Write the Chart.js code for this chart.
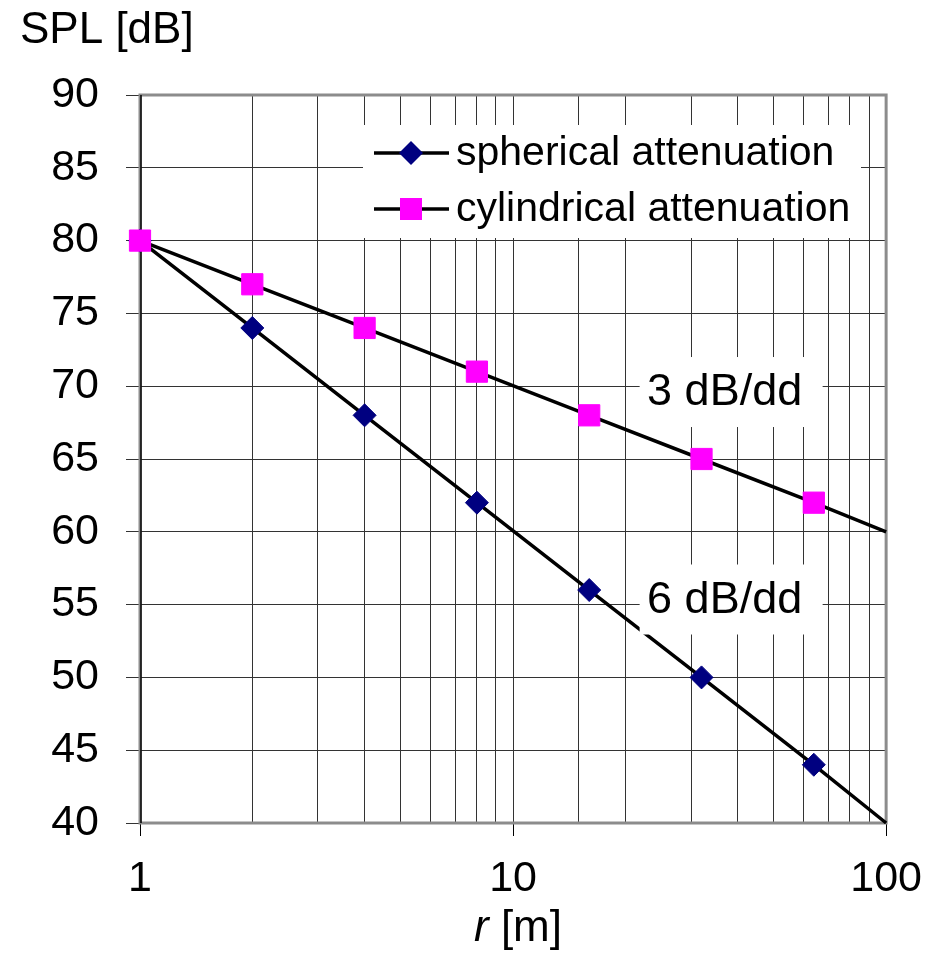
<!DOCTYPE html>
<html>
<head>
<meta charset="utf-8">
<script src="https://cdn.jsdelivr.net/npm/chart.js@4.4.1/dist/chart.umd.min.js"></script>
<style>
  html, body { margin: 0; padding: 0; background: #fff; }
  #wrap { width: 939px; height: 956px; }
</style>
</head>
<body>
<div id="wrap"><canvas id="spl"></canvas></div>
<script>
// distance from the source [m]
const distances = [1, 2, 4, 8, 16, 32, 64, 100];
// point source: -6 dB per doubling of distance
const spherical = [80, 74, 68, 62, 56, 50, 44, 40];
// line source: -3 dB per doubling of distance
const cylindrical = [80, 77, 74, 71, 68, 65, 62, 60];
const seriesNames = ['spherical attenuation', 'cylindrical attenuation'];
const slopeTexts = ['3 dB/dd', '6 dB/dd'];
const xLabelValues = [1, 10, 100];

const FONT = "'Liberation Sans', Arial, sans-serif";
const NAVY = '#000080';
const MAGENTA = '#ff00ff';

// no marker on the last point, the line just runs to the edge
const markers = (size) => distances.map((r, i) => i === distances.length - 1 ? 0 : size);

const isDecade = (v) => Math.abs(Math.log10(v) - Math.round(Math.log10(v))) < 1e-9;

// grey frame round the plot area
const frame = {
    id: 'frame',
    beforeDatasetsDraw(chart) {
        const { ctx, chartArea: a } = chart;
        ctx.save();
        ctx.strokeStyle = '#8c8c8c';
        ctx.lineWidth = 3;
        ctx.strokeRect(a.left, a.top, a.right - a.left, a.bottom - a.top);
        ctx.beginPath();
        ctx.strokeStyle = '#000';
        ctx.lineWidth = 1.5;
        ctx.moveTo(a.left + 1, a.top);
        ctx.lineTo(a.left + 1, a.bottom);
        ctx.stroke();
        ctx.restore();
    }
};

// axis titles, slope labels and the legend box inside the plot
const extras = {
    id: 'extras',
    afterDatasetsDraw(chart) {
        const { ctx, scales: { x, y } } = chart;
        ctx.save();
        ctx.fillStyle = '#000';
        ctx.textBaseline = 'middle';

        // y title, horizontal above the axis
        ctx.font = `44px ${FONT}`;
        ctx.textAlign = 'left';
        ctx.fillText('SPL [dB]', 20, 31);

        // x title with italic r
        ctx.font = `italic 44px ${FONT}`;
        const rW = ctx.measureText('r').width;
        ctx.font = `44px ${FONT}`;
        const restW = ctx.measureText(' [m]').width;
        const x0 = 518 - (rW + restW) / 2;
        ctx.font = `italic 44px ${FONT}`;
        ctx.fillText('r', x0, 929);
        ctx.font = `44px ${FONT}`;
        ctx.fillText(' [m]', x0 + rW, 929);

        // slope labels on white boxes
        const anchors = [[38.3, 69.6], [38.3, 55.35]];
        ctx.font = `45px ${FONT}`;
        slopeTexts.forEach((t, i) => {
            const cx = x.getPixelForValue(anchors[i][0]);
            const cy = y.getPixelForValue(anchors[i][1]);
            ctx.fillStyle = '#fff';
            ctx.fillRect(cx - 91, cy - 35, 183, 70);
            ctx.fillStyle = '#000';
            ctx.textAlign = 'center';
            ctx.fillText(t, cx - 6, cy + 1);
        });

        // legend
        ctx.fillStyle = '#fff';
        ctx.fillRect(363, 125, 498, 113);
        const rows = [153, 209];
        rows.forEach((ry, i) => {
            ctx.strokeStyle = '#000';
            ctx.lineWidth = 3.5;
            ctx.beginPath();
            ctx.moveTo(374, ry);
            ctx.lineTo(449, ry);
            ctx.stroke();
            if (i === 0) {
                ctx.fillStyle = NAVY;
                ctx.beginPath();
                ctx.moveTo(411, ry - 12);
                ctx.lineTo(423, ry);
                ctx.lineTo(411, ry + 12);
                ctx.lineTo(399, ry);
                ctx.closePath();
                ctx.fill();
            } else {
                ctx.fillStyle = MAGENTA;
                ctx.fillRect(400, ry - 11, 22, 22);
            }
            ctx.fillStyle = '#000';
            ctx.textAlign = 'left';
            ctx.font = `41px ${FONT}`;
            ctx.fillText(seriesNames[i], 456, ry + 1);
        });
        ctx.restore();
    }
};

new Chart(document.getElementById('spl'), {
    type: 'line',
    data: {
        datasets: [
            {
                label: seriesNames[0],
                data: distances.map((r, i) => ({ x: r, y: spherical[i] })),
                borderColor: '#000',
                borderWidth: 3.5,
                pointStyle: 'rectRot',
                pointRadius: markers(11.5),
                pointBackgroundColor: NAVY,
                pointBorderColor: NAVY,
                pointBorderWidth: 1,
                clip: false,
                order: 1
            },
            {
                label: seriesNames[1],
                data: distances.map((r, i) => ({ x: r, y: cylindrical[i] })),
                borderColor: '#000',
                borderWidth: 3.5,
                pointStyle: 'rect',
                pointRadius: markers(15),
                pointBackgroundColor: MAGENTA,
                pointBorderColor: MAGENTA,
                pointBorderWidth: 1,
                clip: false,
                order: 0
            }
        ]
    },
    options: {
        responsive: true,
        maintainAspectRatio: false,
        animation: false,
        events: [],
        layout: { padding: { top: 95, right: 50, left: 0, bottom: 0 } },
        plugins: {
            legend: { display: false },
            tooltip: { enabled: false }
        },
        scales: {
            x: {
                type: 'logarithmic',
                min: 1,
                max: 100,
                afterFit(scale) { scale.height = 133; },
                grid: {
                    color: '#333',
                    lineWidth: 1,
                    tickLength: 13,
                    tickColor: (c) => (c.tick && isDecade(c.tick.value)) ? '#000' : 'rgba(0,0,0,0)'
                },
                border: { display: false },
                ticks: {
                    autoSkip: false,
                    maxRotation: 0,
                    padding: 17,
                    color: '#000',
                    font: { family: FONT, size: 43 },
                    callback: (v) => xLabelValues.includes(v) ? String(v) : ''
                }
            },
            y: {
                min: 40,
                max: 90,
                afterFit(scale) { scale.width = 140; },
                grid: { color: '#333', lineWidth: 1, tickLength: 14, tickColor: '#333' },
                border: { display: false },
                ticks: {
                    stepSize: 5,
                    padding: 27,
                    color: '#000',
                    font: { family: FONT, size: 43 }
                }
            }
        }
    },
    plugins: [frame, extras]
});
</script>
</body>
</html>
